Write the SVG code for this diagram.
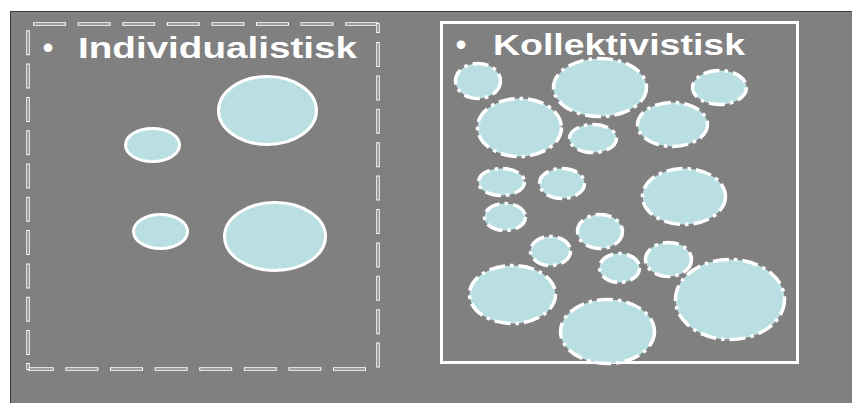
<svg xmlns="http://www.w3.org/2000/svg" width="852" height="403" viewBox="0 0 852 403">
<style>
.title{font-family:"Liberation Sans",Arial,sans-serif;font-weight:bold;font-size:30px;fill:#ffffff}
.solid{fill:#badfe2;stroke:#ffffff;stroke-width:3}
.dd{fill:#badfe2;stroke:#ffffff;stroke-width:3.5;stroke-dasharray:16 5 3.5 5}
.ow{fill:none;stroke:#ffffff;stroke-width:3.5}
.og{fill:none;stroke:#808080;stroke-width:1.5}
</style>
<rect x="0" y="0" width="852" height="403" fill="#ffffff"/>
<rect x="10.5" y="11.5" width="842" height="392" fill="#808080" stroke="#3a3a3a" stroke-width="1"/>
<g id="individualistisk">
  <g id="frame-left">
    <path class="ow" d="M33 24H378" stroke-dasharray="33 11.6"/>
    <path class="og" d="M33 24H378" stroke-dasharray="31 13.6" stroke-dashoffset="-1"/>
    <path class="ow" d="M378 23V33"/>
    <path class="og" d="M378 24V32"/>
    <path class="ow" d="M378 42V369" stroke-dasharray="25 8.4"/>
    <path class="og" d="M378 42V369" stroke-dasharray="23 10.4" stroke-dashoffset="-1"/>
    <path class="ow" d="M366 369H28" stroke-dasharray="33 11.6"/>
    <path class="og" d="M366 369H28" stroke-dasharray="31 13.6" stroke-dashoffset="-1"/>
    <path class="ow" d="M28 355V30" stroke-dasharray="25 8.3"/>
    <path class="og" d="M28 355V30" stroke-dasharray="23 10.3" stroke-dashoffset="-1"/>
    <path class="ow" d="M28 363V370"/>
    <path class="og" d="M28 364V369"/>
  </g>
  <text class="title" x="48" y="57.5" text-anchor="middle">•</text>
  <text class="title" x="78" y="57.5" textLength="279" lengthAdjust="spacingAndGlyphs">Individualistisk</text>
  <ellipse id="i1" class="solid" cx="267.5" cy="110.5" rx="49" ry="34"/>
  <ellipse id="i2" class="solid" cx="152.5" cy="145" rx="27" ry="16.5"/>
  <ellipse id="i3" class="solid" cx="160.5" cy="231.5" rx="27" ry="17"/>
  <ellipse id="i4" class="solid" cx="275" cy="236.5" rx="50.5" ry="34"/>
</g>
<g id="kollektivistisk">
  <rect id="frame-right" x="441.5" y="22.5" width="356" height="340" fill="none" stroke="#ffffff" stroke-width="3"/>
  <text class="title" x="461" y="54.5" text-anchor="middle">•</text>
  <text class="title" x="493" y="54.5" textLength="252" lengthAdjust="spacingAndGlyphs">Kollektivistisk</text>
  <ellipse id="kA" class="dd" cx="478" cy="81" rx="22.5" ry="17.5"/>
  <ellipse id="kB" class="dd" cx="600" cy="87.5" rx="46.5" ry="29"/>
  <ellipse id="kC" class="dd" cx="719.5" cy="87.5" rx="27" ry="17"/>
  <ellipse id="kD" class="dd" cx="519.5" cy="127.5" rx="42" ry="29"/>
  <ellipse id="kE" class="dd" cx="593" cy="138.5" rx="23.5" ry="14"/>
  <ellipse id="kF" class="dd" cx="672.5" cy="124.5" rx="35" ry="22"/>
  <ellipse id="kG" class="dd" cx="501.5" cy="182" rx="23" ry="13.5"/>
  <ellipse id="kH" class="dd" cx="562" cy="183.5" rx="22.5" ry="15"/>
  <ellipse id="kI" class="dd" cx="684" cy="196.5" rx="41.5" ry="28"/>
  <ellipse id="kJ" class="dd" cx="505" cy="217" rx="20.5" ry="13.5"/>
  <ellipse id="kL" class="dd" cx="600" cy="231.5" rx="22.5" ry="17"/>
  <ellipse id="kM" class="dd" cx="550.5" cy="251" rx="20" ry="14.5"/>
  <ellipse id="kN" class="dd" cx="619.5" cy="268" rx="20" ry="14.5"/>
  <ellipse id="kO" class="dd" cx="668.5" cy="259.5" rx="23" ry="17"/>
  <ellipse id="kP" class="dd" cx="512.5" cy="294.5" rx="43" ry="29"/>
  <ellipse id="kQ" class="dd" cx="607.5" cy="331.5" rx="47" ry="32"/>
  <ellipse id="kR" class="dd" cx="730" cy="299.5" rx="54.5" ry="40"/>
</g>
<g id="connectors"/>
</svg>
